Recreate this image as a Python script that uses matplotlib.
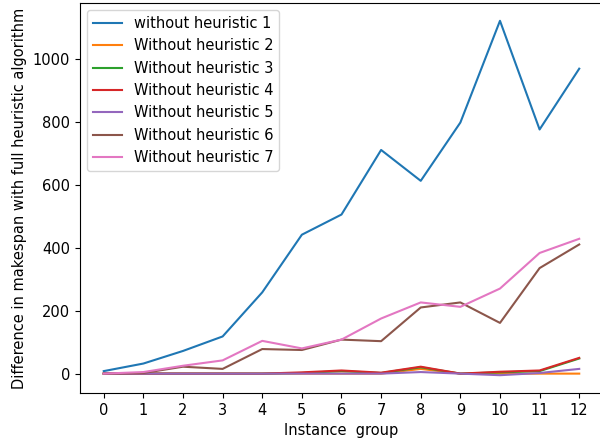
import matplotlib
matplotlib.use("Agg")
import matplotlib.pyplot as plt

plt.rcParams["font.size"] = 10.5

groups = list(range(13))

h1 = [8, 32, 72, 118, 258, 441, 505, 710, 612, 797, 1120, 775, 968]
h2 = [0, 0, 0, 0, 0, 0, 0, 0, 15, 0, 0, 0, 0]
h3 = [0, 0, 0, 0, 0, 2, 8, 2, 20, 0, 4, 8, 48]
h4 = [0, 0, 0, 0, 0, 4, 10, 3, 22, 0, 6, 10, 50]
h5 = [0, 0, 0, 0, 0, 0, 0, 0, 5, 0, -5, 2, 15]
h6 = [0, 2, 22, 15, 78, 75, 108, 103, 210, 226, 161, 335, 410]
h7 = [0, 5, 25, 42, 104, 80, 108, 175, 226, 212, 270, 383, 428]

series = [h1, h2, h3, h4, h5, h6, h7]
labels = ["without heuristic 1"] + ["Without heuristic %d" % i for i in range(2, 8)]

fig, ax = plt.subplots(figsize=(6, 4.4), dpi=100)
fig.subplots_adjust(left=0.1333, right=1.005, top=0.993, bottom=0.107)

for ys, lab in zip(series, labels):
    ax.plot(groups, ys, label=lab)

ax.set_xticks(groups)
ax.set_xlabel("Instance  group")
ax.set_ylabel("Difference in makespan with full heuristic algorithm")
ax.legend(loc="upper left")

fig.savefig("out.png")
